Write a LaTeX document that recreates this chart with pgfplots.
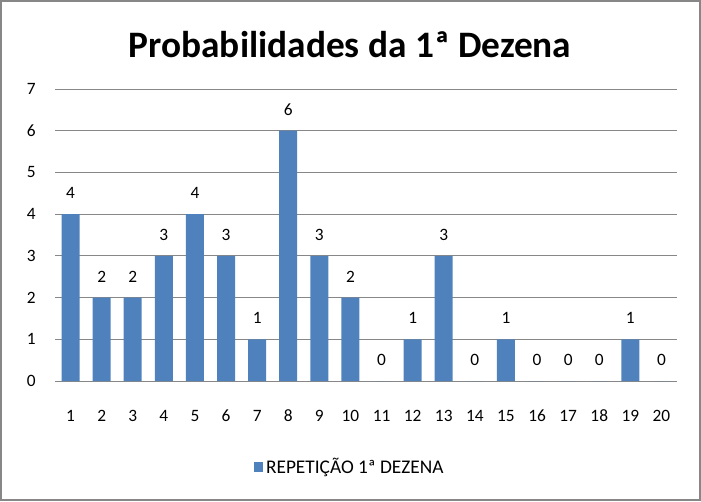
\documentclass[border=0pt]{standalone}
\usepackage{fontspec}
\setmainfont{Carlito}
\usepackage{pgfplots}
\pgfplotsset{compat=1.18}
\definecolor{barblue}{HTML}{4F81BD}
\definecolor{gridgray}{HTML}{878787}

\begin{document}
\begin{tikzpicture}[x=1pt,y=1pt]
  % outer frame of the chart
  \draw[gridgray, line width=1.5pt] (-40.5,-89.25) rectangle (483.75,285);
  \node[font=\bfseries\fontsize{28}{32}\selectfont] at (221.25,252) {Probabilidades da 1ª Dezena};
  \begin{axis}[
      at={(0,0)}, anchor=south west,
      scale only axis,
      width=466.5pt, height=219pt,
      ybar, bar width=13.5pt,
      xmin=0.5, xmax=20.5,
      ymin=0, ymax=7,
      xtick={1,...,20},
      ytick={0,...,7},
      axis line style={draw=none},
      tick style={draw=none},
      ymajorgrids=true,
      grid style={gridgray, line width=0.6pt},
      /pgf/number format/assume math mode=true,
      tick label style={font=\fontsize{13}{15}\selectfont},
      xticklabel style={yshift=-13.5pt, text height=9pt, text depth=0pt},
      yticklabel style={xshift=-11pt},
      nodes near coords,
      every node near coord/.append style={font=\fontsize{13}{15}\selectfont, yshift=8pt},
      legend style={at={(221.25pt,-64.5pt)}, anchor=center, draw=none,
        font=\fontsize{14.5}{16}\selectfont, legend cell align=left},
      legend image code/.code={\fill[barblue] (0pt,-3.6pt) rectangle (7.2pt,3.6pt);},
    ]
    \addplot[fill=barblue, draw=none] coordinates {
      (1,4)(2,2)(3,2)(4,3)(5,4)(6,3)(7,1)(8,6)(9,3)(10,2)
      (11,0)(12,1)(13,3)(14,0)(15,1)(16,0)(17,0)(18,0)(19,1)(20,0)
    };
    \addlegendentry{REPETIÇÃO 1ª DEZENA}
  \end{axis}
\end{tikzpicture}
\end{document}
